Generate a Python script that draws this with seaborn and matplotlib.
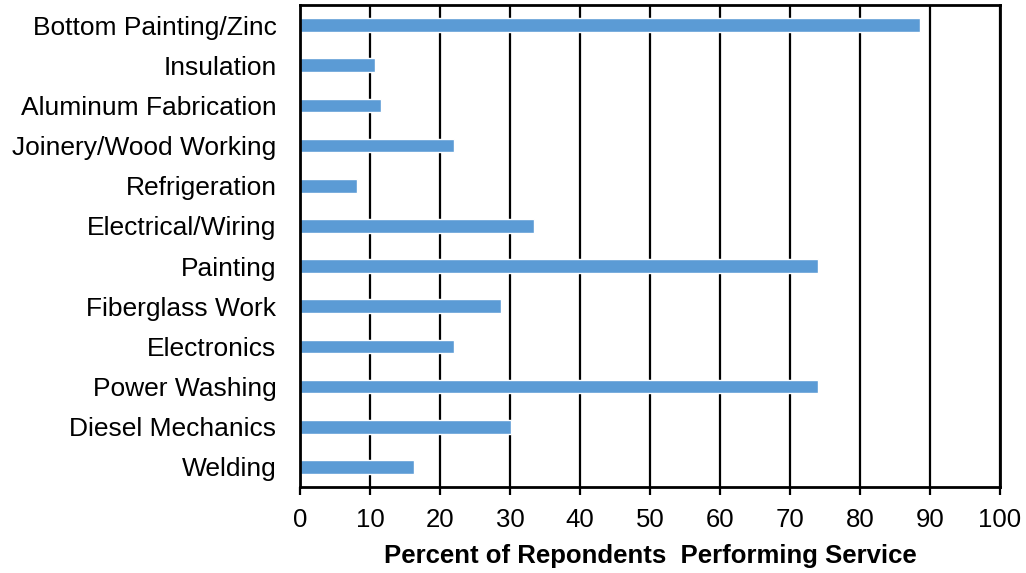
import numpy as np
import pandas as pd
import matplotlib
matplotlib.use('Agg')
import matplotlib.pyplot as plt
import seaborn as sns

services = ['Bottom Painting/Zinc', 'Insulation', 'Aluminum Fabrication',
            'Joinery/Wood Working', 'Refrigeration', 'Electrical/Wiring',
            'Painting', 'Fiberglass Work', 'Electronics', 'Power Washing',
            'Diesel Mechanics', 'Welding']
percent = [88.5, 10.7, 11.6, 22.0, 8.1, 33.4, 74.0, 28.7, 22.0, 74.0, 30.2, 16.3]
x_ticks = list(range(0, 101, 10))

df = pd.DataFrame({'service': services, 'percent': percent})

sns.set_style('white')
plt.rcParams['font.family'] = ['Liberation Sans', 'DejaVu Sans']

fig = plt.figure(figsize=(10.26, 5.73), dpi=100)
ax = fig.add_axes([0.2924, 0.150, 0.6823, 0.8413])

ax.set_axisbelow(True)
ax.xaxis.grid(True, color='black', linewidth=1.6)
sns.barplot(data=df, x='percent', y='service', order=services, orient='h',
            color='#5B9BD5', saturation=1, width=0.34, ax=ax)

ax.set_xlim(0, 100)
ax.set_xticks(x_ticks)
ax.tick_params(axis='x', labelsize=18.5, length=6, width=1.6, color='black',
               direction='out', bottom=True, pad=9, labelcolor='black')
ax.tick_params(axis='y', labelsize=19, length=0, pad=17, labelcolor='black')
ax.set_ylabel('')
ax.set_xlabel('Percent of Repondents  Performing Service', fontsize=18.5,
              fontweight='bold', labelpad=9, color='black')
for s in ax.spines.values():
    s.set_color('black')
    s.set_linewidth(2)

fig.savefig('out.png', dpi=100)
